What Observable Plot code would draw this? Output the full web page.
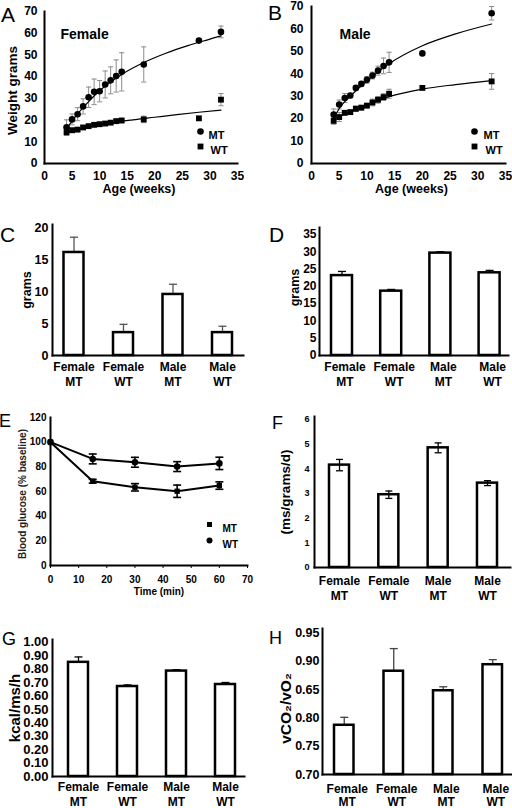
<!DOCTYPE html>
<html><head><meta charset="utf-8">
<script src="https://cdn.jsdelivr.net/npm/d3@7"></script>
<script src="https://cdn.jsdelivr.net/npm/@observablehq/plot@0.6"></script>
<style>
body{margin:0;background:#fff;}
#fig{position:relative;width:512px;height:808px;overflow:hidden;font-family:"Liberation Sans",Arial,sans-serif;background:#fff;}
.panel{position:absolute;}
.letter{position:absolute;font-weight:normal;line-height:1;color:#000;font-family:"Liberation Sans",Arial,sans-serif;}
</style></head><body><div id="fig"></div>
<script>
// ---------- DATA ----------
// Panel A (Female)
const femaleAges = [4,5,6,7,8,9,10,11,12,13,14,18,28,32];
const femaleMT = [16.7,20.3,22.7,26.3,30.5,33,33.3,36.4,38.3,40.3,42.2,45.6,56.6,60.6];
const femaleMTerr = [3.4,2.5,3,3.5,4.7,5.9,4.9,6.2,6.2,7.4,8.8,8.1,0,2.7];
const femaleWT = [14.4,15.3,15.6,16.6,17.2,17.8,18.1,18.4,18.8,19.5,19.8,20.3,20.8,29.4];
const femaleWTerr = [1.5,1,0.8,0.8,0.8,0.8,0.8,0.8,0.8,1,1,1.5,0,2.8];
const femaleMTfitAge = [4,5,6,8,10,12,14,18,22,26,30,32];
const femaleMTfit = [16,19.5,22.8,28.5,33.5,37.5,41,46.5,50.8,54.3,57.3,58.8];
const femaleWTfitAge = [4,8,12,16,20,24,28,32];
const femaleWTfit = [14.5,16.8,18.7,20.1,21.3,22.5,23.6,24.6];
// Panel B (Male)
const maleAges = [4,5,6,7,8,9,10,11,12,13,14,20,32.5];
const maleMT = [21.8,26.3,29.2,30.3,33.7,35.5,37.3,39.2,41.4,43.5,45.1,49.1,67];
const maleMTerr = [2.5,2,2,1,1,1,1.5,1.5,2,3.5,4.5,0,3];
const maleWT = [19,20.7,22.6,22.9,24.4,24.9,25.8,27.2,28.4,29.6,31.1,33.7,36.6];
const maleWTerr = [1.5,2,1,1,1.2,1,1,1.5,1.5,1.5,2,0,3.5];
const maleMTfitAge = [4,5,7,10,14,20,26,32.5];
const maleMTfit = [20,24.5,30,36.8,44.5,52.5,57.8,62.2];
const maleWTfitAge = [4,6,10,14,20,26,32.5];
const maleWTfit = [20,22,26,29.8,33.2,35.2,37];
const ageTicks = [0,5,10,15,20,25,30,35];
const weightTicks = [0,10,20,30,40,50,60,70];
// Bar panels
const groups = ["Female MT","Female WT","Male MT","Male WT"];
const groupLabels = ["Female\nMT","Female\nWT","Male\nMT","Male\nWT"];
const cValues = [16.2,3.6,9.6,3.6];
const cErrors = [2.4,1.3,1.6,1.0];
const cTicks = [0,5,10,15,20];
const dValues = [23.1,18.6,29.6,23.9];
const dErrors = [1.2,0.5,0.4,0.7];
const dTicks = [0,5,10,15,20,25,30,35];
const fValues = [4.15,2.95,4.85,3.42];
const fErrors = [0.23,0.15,0.2,0.1];
const fTicks = [0,1,2,3,4,5,6];
const fTickLabels = ["0","1","2","3","4","5","6"];
const gValues = [0.85,0.67,0.785,0.685];
const gErrors = [0.04,0.012,0.01,0.015];
const gTicks = [0,0.1,0.2,0.3,0.4,0.5,0.6,0.7,0.8,0.9,1.0];
const gTickLabels = ["0.00","0.10","0.20","0.30","0.40","0.50","0.60","0.70","0.80","0.90","1.00"];
const hValues = [0.787,0.8825,0.848,0.894];
const hErrors = [0.014,0.04,0.007,0.009];
const hTicks = [0.70,0.75,0.80,0.85,0.90,0.95];
const hTickLabels = ["0.70","0.75","0.80","0.65","0.90","0.95"];
// Panel E (glucose)
const times = [0,15,30,45,60];
const glucoseMT = [100,68.3,63.4,60.2,64.8];
const glucoseMTerr = [0,1.5,3,5,3];
const glucoseWT = [100,86.4,83.7,80.2,82.8];
const glucoseWTerr = [0,4,4,4,5];
const timeTicks = [0,10,20,30,40,50,60,70];
const glucoseTicks = [0,20,40,60,80,100,120];

// ---------- HELPERS ----------
const FONT = '"Liberation Sans", Arial, sans-serif';
const fig = document.getElementById("fig");
const baseStyle = {fontFamily: FONT, fontWeight: "bold", color: "black", background: "none", overflow: "visible"};
function place(svg, left, top, w){
  const d = document.createElement("div");
  d.className = "panel";
  d.style.left = left + "px"; d.style.top = top + "px"; d.style.width = w + "px";
  d.appendChild(svg); fig.appendChild(d);
}
function letter(t, left, top, size){
  const d = document.createElement("div");
  d.className = "letter"; d.textContent = t;
  d.style.left = left + "px"; d.style.top = top + "px"; d.style.fontSize = size + "px";
  fig.appendChild(d);
}
const capSym = {draw(ctx, size){ const r = Math.sqrt(size / Math.PI); ctx.moveTo(-r, 0); ctx.lineTo(r, 0); }};
function rows(xs, vs, es){ return xs.map((x, i) => ({x, v: vs[i], e: es ? es[i] : 0})); }

// ---------- GROWTH PANELS (A, B) ----------
function growthPanel(o){
  const mt = rows(o.ages, o.mt, o.mtErr);
  const wt = rows(o.ages, o.wt, o.wtErr);
  const fitMT = rows(o.fitMTAge, o.fitMT);
  const fitWT = rows(o.fitWTAge, o.fitWT);
  const eb = [...mt, ...wt].filter(d => d.e > 0);
  const ec = "#8c8c8c";
  return Plot.plot({
    width: 256, height: 200,
    marginLeft: o.ml, marginRight: o.mr, marginTop: o.mtop, marginBottom: 37,
    x: {domain: [0, 35]}, y: {domain: [0, 70]},
    style: baseStyle,
    marks: [
      Plot.ruleX(eb, {x: "x", y1: d => d.v - d.e, y2: d => d.v + d.e, stroke: ec, strokeWidth: 1}),
      Plot.dot(eb, {x: "x", y: d => d.v + d.e, symbol: capSym, r: 2.6, stroke: ec, fill: "none", strokeWidth: 1}),
      Plot.dot(eb, {x: "x", y: d => d.v - d.e, symbol: capSym, r: 2.6, stroke: ec, fill: "none", strokeWidth: 1}),
      Plot.line(fitMT, {x: "x", y: "v", curve: "monotone-x", stroke: "black", strokeWidth: 1.2}),
      Plot.line(fitWT, {x: "x", y: "v", curve: "monotone-x", stroke: "black", strokeWidth: 1.2}),
      Plot.dot(mt, {x: "x", y: "v", r: 3.3, fill: "black"}),
      Plot.dot(wt, {x: "x", y: "v", symbol: "square", r: 3.3, fill: "black"}),
      Plot.frame({anchor: "left", stroke: "black", strokeWidth: 2}),
      Plot.frame({anchor: "bottom", stroke: "black", strokeWidth: 2}),
      Plot.axisX({ticks: ageTicks, tickSize: 0, tickPadding: 8, fontSize: 12, label: null}),
      Plot.axisY({ticks: weightTicks, tickSize: 0, tickPadding: o.ytp, fontSize: 12, label: null}),
      Plot.text(["Age (weeks)"], {frameAnchor: "bottom", dx: o.ageDx, dy: 29, fontSize: 12.5, textAnchor: "middle"}),
      Plot.text([o.title], {frameAnchor: "top-left", dx: o.titleDx, dy: o.titleDy, fontSize: 14, textAnchor: "start"}),
      Plot.dot(["MT"], {frameAnchor: "top-left", dx: o.legX, dy: o.legY, r: 3.3, fill: "black"}),
      Plot.dot(["WT"], {frameAnchor: "top-left", dx: o.legX, dy: o.legY + 15, symbol: "square", r: 3.3, fill: "black"}),
      Plot.text(["MT"], {frameAnchor: "top-left", dx: o.legX + o.legT1, dy: o.legY, fontSize: 11, textAnchor: "start"}),
      Plot.text(["WT"], {frameAnchor: "top-left", dx: o.legX + o.legT2, dy: o.legY + 15, fontSize: 11, textAnchor: "start"}),
      ...(o.ytitle ? [Plot.text([o.ytitle], {frameAnchor: "left", rotate: -90, dx: -32, dy: 3, fontSize: 13.5, textAnchor: "middle"})] : [])
    ]
  });
}

place(growthPanel({
  ages: femaleAges, mt: femaleMT, mtErr: femaleMTerr, wt: femaleWT, wtErr: femaleWTerr,
  fitMTAge: femaleMTfitAge, fitMT: femaleMTfit, fitWTAge: femaleWTfitAge, fitWT: femaleWTfit,
  ml: 44, mr: 19, mtop: 11, ytp: 7, ageDx: -2, title: "Female", titleDx: 16, titleDy: 18,
  legX: 156, legY: 120, legT1: 8, legT2: 10, ytitle: "Weight grams"
}), 0, 0, 256);

place(growthPanel({
  ages: maleAges, mt: maleMT, mtErr: maleMTerr, wt: maleWT, wtErr: maleWTerr,
  fitMTAge: maleMTfitAge, fitMT: maleMTfit, fitWTAge: maleWTfitAge, fitWT: maleWTfit,
  ml: 55, mr: 7, mtop: 6, ytp: 8, ageDx: 3, title: "Male", titleDx: 28, titleDy: 23,
  legX: 163, legY: 125, legT1: 9, legT2: 11, ytitle: null
}), 256, 0, 256);

// ---------- BAR PANELS ----------
function barPanel(o){
  const data = groups.map((c, i) => ({c, label: groupLabels[i], v: o.vals[i], e: o.errs[i]}));
  const base = o.yDomain[0];
  const ec = o.errColor || "black";
  const errMarks = [
    Plot.ruleX(data, {x: "c", y1: d => o.both ? d.v - d.e : d.v, y2: d => d.v + d.e, stroke: ec, strokeWidth: 1.3}),
    Plot.dot(data, {x: "c", y: d => d.v + d.e, symbol: capSym, r: o.capR || 4, stroke: ec, fill: "none", strokeWidth: 1.3}),
    ...(o.both ? [Plot.dot(data, {x: "c", y: d => d.v - d.e, symbol: capSym, r: o.capR || 4, stroke: ec, fill: "none", strokeWidth: 1.3})] : [])
  ];
  return Plot.plot({
    width: o.w, height: o.h,
    marginLeft: o.ml, marginRight: o.mr, marginTop: o.mtop, marginBottom: o.mb,
    x: {type: "band", domain: groups, range: o.xRange, paddingInner: o.pad, paddingOuter: 0, round: false, axis: null},
    y: {domain: o.yDomain},
    style: baseStyle,
    marks: [
      ...(o.both ? [] : errMarks),
      Plot.barY(data, {x: "c", y1: () => base, y2: "v", fill: "white", stroke: "black", strokeWidth: 2.5}),
      ...(o.both ? errMarks : []),
      Plot.frame({anchor: "left", stroke: "black", strokeWidth: 2}),
      Plot.frame({anchor: "bottom", stroke: "black", strokeWidth: 2}),
      Plot.axisY({ticks: o.yTicks, tickFormat: o.yLabels ? (d => o.yLabels[o.yTicks.indexOf(d)]) : (d => String(d)),
        tickSize: 0, tickPadding: o.ytp, fontSize: o.yfs, label: null}),
      Plot.text(data, {x: "c", text: "label", frameAnchor: "bottom", lineAnchor: "top", dx: o.labDx || 0, dy: o.labDy,
        lineHeight: o.lh || 1.25, fontSize: 12, textAnchor: "middle"}),
      Plot.text([o.ytitle], {frameAnchor: "left", rotate: -90, dx: o.tdx, dy: o.tdy || 0, fontSize: o.tfs, textAnchor: "middle"})
    ]
  });
}

// C
place(barPanel({
  w: 256, h: 195, ml: 52, mr: 13, mtop: 24, mb: 40, xRange: [63.5, 232], pad: 0.596,
  yDomain: [0, 20.6], yTicks: cTicks, ytp: 4, yfs: 12.5, vals: cValues, errs: cErrors, errColor: "#555",
  labDy: 4.7, ytitle: "grams", tdx: -26, tdy: 0, tfs: 12.5
}), 0, 200, 256);

// D
place(barPanel({
  w: 256, h: 195, ml: 63, mr: 4, mtop: 27, mb: 40, xRange: [75, 243.6], pad: 0.573,
  yDomain: [0, 37], yTicks: dTicks, ytp: 3, yfs: 12, vals: dValues, errs: dErrors,
  labDy: 4.7, labDx: 3, ytitle: "grams", tdx: -25, tdy: -4, tfs: 12.5
}), 256, 200, 256);

// F
place(barPanel({
  w: 256, h: 205, ml: 58, mr: 2, mtop: 16, mb: 38, xRange: [73, 241], pad: 0.594,
  yDomain: [0, 6.12], yTicks: fTicks, yLabels: fTickLabels, ytp: 5, yfs: 9, vals: fValues, errs: fErrors, both: true, capR: 3.5,
  labDy: 6.6, ytitle: "(ms/grams/d)", tdx: -29, tdy: 0, tfs: 13.5
}), 256, 400, 256);

// G
place(barPanel({
  w: 256, h: 203, ml: 52, mr: 12, mtop: 34, mb: 32, xRange: [68, 235], pad: 0.592,
  yDomain: [0, 1.02], yTicks: gTicks, yLabels: gTickLabels, ytp: 4, yfs: 13, vals: gValues, errs: gErrors,
  labDy: 3.6, ytitle: "kcal/ms/h", tdx: -37, tdy: 0, tfs: 15
}), 0, 605, 256);

// H
place(barPanel({
  w: 256, h: 203, ml: 66, mr: 0, mtop: 23, mb: 34, xRange: [78, 246], pad: 0.606,
  yDomain: [0.70, 0.958], yTicks: hTicks, yLabels: hTickLabels, ytp: 3, yfs: 12.5, vals: hValues, errs: hErrors, errColor: "#444",
  labDy: 8.3, labDx: 3, lh: 1.15, ytitle: "vCO₂/vO₂", tdx: -36, tdy: 7, tfs: 15.5
}), 256, 605, 256);

// ---------- E (glucose) ----------
(function(){
  const mt = rows(times, glucoseMT, glucoseMTerr);
  const wt = rows(times, glucoseWT, glucoseWTerr);
  const eb = [...mt, ...wt].filter(d => d.e > 0);
  const svg = Plot.plot({
    width: 256, height: 205, marginLeft: 50, marginRight: 9, marginTop: 17, marginBottom: 40,
    x: {domain: [0, 70]}, y: {domain: [0, 120]},
    style: baseStyle,
    marks: [
      Plot.ruleX(eb, {x: "x", y1: d => d.v - d.e, y2: d => d.v + d.e, stroke: "black", strokeWidth: 1.6}),
      Plot.dot(eb, {x: "x", y: d => d.v + d.e, symbol: capSym, r: 4, stroke: "black", fill: "none", strokeWidth: 1.6}),
      Plot.dot(eb, {x: "x", y: d => d.v - d.e, symbol: capSym, r: 4, stroke: "black", fill: "none", strokeWidth: 1.6}),
      Plot.line(wt, {x: "x", y: "v", stroke: "black", strokeWidth: 2}),
      Plot.line(mt, {x: "x", y: "v", stroke: "black", strokeWidth: 2}),
      Plot.dot(wt, {x: "x", y: "v", r: 3.3, fill: "black"}),
      Plot.dot(mt, {x: "x", y: "v", symbol: "square", r: 3, fill: "black"}),
      Plot.frame({anchor: "left", stroke: "black", strokeWidth: 2}),
      Plot.frame({anchor: "bottom", stroke: "black", strokeWidth: 2}),
      Plot.axisX({ticks: timeTicks, tickSize: 3, tickPadding: 7, fontSize: 10, label: null}),
      Plot.axisY({ticks: glucoseTicks, tickSize: 0, tickPadding: 4, fontSize: 10, label: null}),
      Plot.text(["Time (min)"], {frameAnchor: "bottom", dx: 10, dy: 29, fontSize: 10, textAnchor: "middle"}),
      Plot.text(["Blood glucose (% baseline)"], {frameAnchor: "left", rotate: -90, dx: -28, dy: 2.5, fontSize: 10, textAnchor: "middle", fill: "#222"}),
      Plot.dot(["MT"], {frameAnchor: "top-left", dx: 159, dy: 107, symbol: "square", r: 2.8, fill: "black"}),
      Plot.dot(["WT"], {frameAnchor: "top-left", dx: 159, dy: 123, r: 3, fill: "black"}),
      Plot.text(["MT"], {frameAnchor: "top-left", dx: 172, dy: 107, fontSize: 10, textAnchor: "start"}),
      Plot.text(["WT"], {frameAnchor: "top-left", dx: 172, dy: 123, fontSize: 10, textAnchor: "start"})
    ]
  });
  place(svg, 0, 400, 256);
})();

// ---------- PANEL LETTERS ----------
letter("A", 1, 4, 21);
letter("B", 268, 2, 21);
letter("C", 0, 224, 21);
letter("D", 269, 224, 21);
letter("E", -1, 412, 18);
letter("F", 272, 414, 18);
letter("G", 2, 630, 18);
letter("H", 269, 629, 18);
</script></body></html>
